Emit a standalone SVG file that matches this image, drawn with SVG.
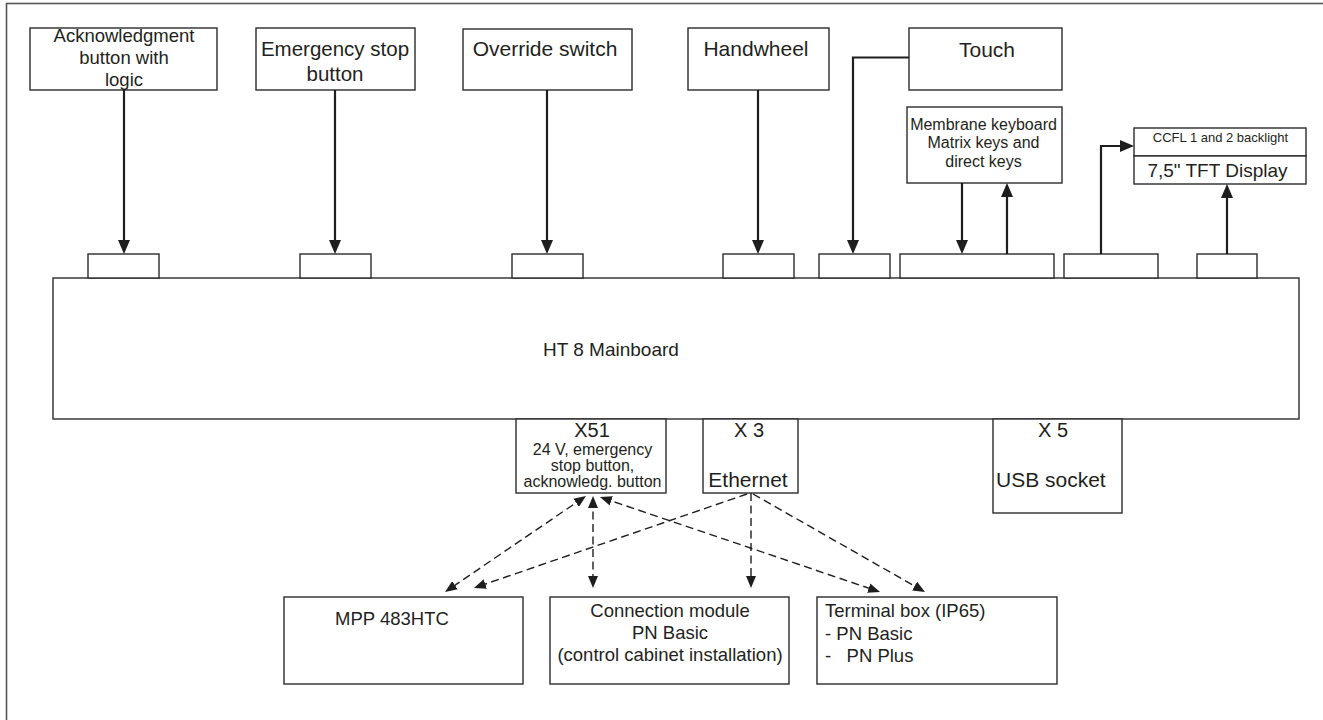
<svg xmlns="http://www.w3.org/2000/svg" width="1323" height="720" viewBox="0 0 1323 720">
<style>
.bx{fill:#fff;stroke:#2b2b2b;stroke-width:1.4}
.t{font-family:"Liberation Sans",Arial,sans-serif;fill:#231f20;text-anchor:middle}
.ts{font-family:"Liberation Sans",Arial,sans-serif;fill:#231f20;text-anchor:start}
.sol{fill:none;stroke:#1e1e1e;stroke-width:2.2}
.dsh{fill:none;stroke:#1e1e1e;stroke-width:1.4;stroke-dasharray:8 4.5}
</style>
<defs>
<marker id="ah" viewBox="0 0 14 12" refX="11" refY="6" markerWidth="14" markerHeight="12" markerUnits="userSpaceOnUse" orient="auto-start-reverse">
<path d="M0,0 L14,6 L0,12 Z" fill="#1e1e1e"/>
</marker>
<marker id="ad" viewBox="0 0 12 10" refX="9" refY="5" markerWidth="12" markerHeight="10" markerUnits="userSpaceOnUse" orient="auto-start-reverse">
<path d="M0,0 L12,5 L0,10 Z" fill="#1e1e1e"/>
</marker>
</defs>
<rect width="1323" height="720" fill="#fff"/>
<rect id="frame" x="6.5" y="3.5" width="1340" height="740" fill="none" stroke="#555" stroke-width="1.6"/>

<g id="ack"><rect class="bx" x="30" y="28" width="187" height="62"/>
<text class="t" font-size="18.5"><tspan x="124" y="41.5">Acknowledgment</tspan><tspan x="124" y="63.5">button with</tspan><tspan x="124" y="86">logic</tspan></text></g>
<g id="estop"><rect class="bx" x="256" y="28" width="159" height="62"/>
<text class="t" font-size="20.5"><tspan x="335" y="55.5">Emergency stop</tspan><tspan x="335" y="81">button</tspan></text></g>
<g id="override"><rect class="bx" x="463" y="29" width="169" height="61"/>
<text class="t" font-size="21" x="545" y="56">Override switch</text></g>
<g id="handwheel"><rect class="bx" x="688" y="28" width="141" height="62"/>
<text class="t" font-size="21" x="756" y="56">Handwheel</text></g>
<g id="touch"><rect class="bx" x="909" y="28" width="153" height="62"/>
<text class="t" font-size="21" x="987" y="57">Touch</text></g>
<g id="membrane"><rect class="bx" x="907" y="107" width="155" height="76"/>
<text class="t" font-size="16"><tspan x="983.5" y="129.5">Membrane keyboard</tspan><tspan x="983.5" y="148">Matrix keys and</tspan><tspan x="983.5" y="167">direct keys</tspan></text></g>
<g id="display"><rect class="bx" x="1134" y="128" width="172" height="28"/><rect class="bx" x="1134" y="156" width="172" height="28"/>
<text class="t" font-size="13" x="1220.5" y="142">CCFL 1 and 2 backlight</text>
<text class="t" font-size="19" x="1217.5" y="177">7,5" TFT Display</text></g>

<g id="mainboard"><rect class="bx" x="53" y="278" width="1246" height="141"/>
<rect class="bx" x="88" y="254" width="71" height="24"/>
<rect class="bx" x="300" y="254" width="71" height="24"/>
<rect class="bx" x="512" y="254" width="71" height="24"/>
<rect class="bx" x="723" y="254" width="71" height="24"/>
<rect class="bx" x="819" y="254" width="71" height="24"/>
<rect class="bx" x="900" y="254" width="154" height="24"/>
<rect class="bx" x="1064" y="254" width="94" height="24"/>
<rect class="bx" x="1197" y="254" width="60" height="24"/>
<text class="ts" font-size="19" x="543" y="356">HT 8 Mainboard</text></g>

<g id="x51"><rect class="bx" x="516" y="419" width="150" height="74"/>
<text class="t" font-size="20" x="592" y="437">X51</text>
<text class="t" font-size="16"><tspan x="592.5" y="455">24 V, emergency</tspan><tspan x="592.5" y="471">stop button,</tspan><tspan x="592.5" y="486.5">acknowledg. button</tspan></text></g>
<g id="x3"><rect class="bx" x="703" y="419" width="95" height="74"/>
<text class="t" font-size="20" x="749" y="437">X 3</text>
<text class="t" font-size="21" x="748" y="487">Ethernet</text></g>
<g id="x5"><rect class="bx" x="993" y="419" width="129" height="94"/>
<text class="t" font-size="20" x="1053" y="437">X 5</text>
<text class="ts" font-size="21" x="996" y="487">USB socket</text></g>

<g id="mpp"><rect class="bx" x="284" y="597" width="239" height="87"/>
<text class="t" font-size="18.5" x="392" y="625">MPP 483HTC</text></g>
<g id="connmod"><rect class="bx" x="550" y="597" width="239" height="87"/>
<text class="t" font-size="18.5"><tspan x="670" y="617">Connection module</tspan><tspan x="670" y="639">PN Basic</tspan><tspan x="670" y="661">(control cabinet installation)</tspan></text></g>
<g id="terminal"><rect class="bx" x="817" y="597" width="240" height="87"/>
<text class="ts" font-size="18.5" xml:space="preserve"><tspan x="825" y="617">Terminal box (IP65)</tspan><tspan x="825" y="640">- PN Basic</tspan><tspan x="825" y="662">-   PN Plus</tspan></text></g>

<g id="connectors">
<path class="sol" d="M124,90 V251" marker-end="url(#ah)"/>
<path class="sol" d="M335,90 V251" marker-end="url(#ah)"/>
<path class="sol" d="M547,90 V251" marker-end="url(#ah)"/>
<path class="sol" d="M758,90 V251" marker-end="url(#ah)"/>
<path class="sol" d="M909,57.5 H853 V251" marker-end="url(#ah)"/>
<path class="sol" d="M962,183 V251" marker-end="url(#ah)"/>
<path class="sol" d="M1007,254 V186" marker-end="url(#ah)"/>
<path class="sol" d="M1101,254 V146 H1131" marker-end="url(#ah)"/>
<path class="sol" d="M1227,254 V187" marker-end="url(#ah)"/>
<path class="dsh" d="M583.5,497.7 L447.5,590.3" marker-start="url(#ad)" marker-end="url(#ad)"/>
<path class="dsh" d="M747,494 L476.8,587" marker-end="url(#ad)"/>
<path class="dsh" d="M593,499 V585" marker-start="url(#ad)" marker-end="url(#ad)"/>
<path class="dsh" d="M751,493 V585" marker-end="url(#ad)"/>
<path class="dsh" d="M602.8,498 L877.2,591" marker-start="url(#ad)" marker-end="url(#ad)"/>
<path class="dsh" d="M753,494 L922.4,590.5" marker-end="url(#ad)"/>
</g>
</svg>
